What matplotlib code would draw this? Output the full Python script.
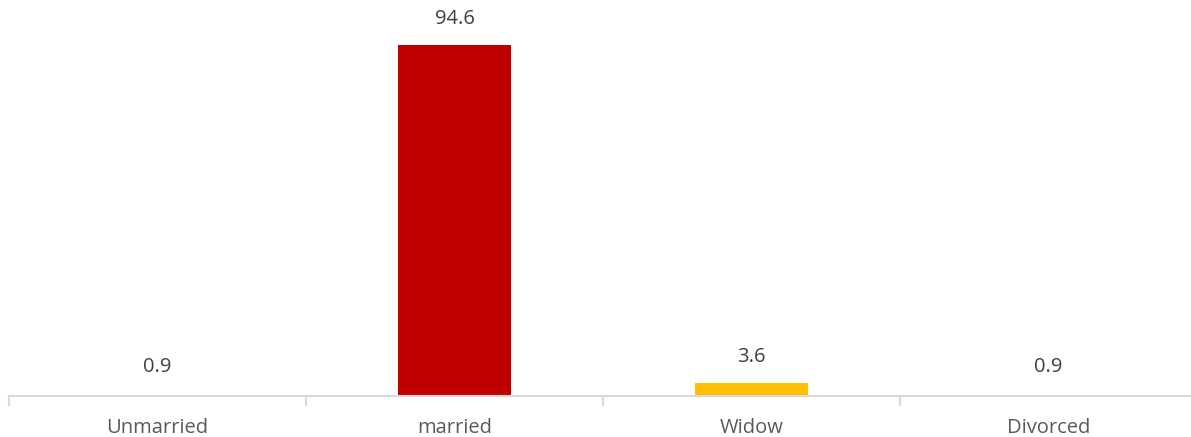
import matplotlib
matplotlib.use("Agg")
import matplotlib.pyplot as plt

categories = ["Unmarried", "married", "Widow", "Divorced"]
values = [0.9, 94.6, 3.6, 0.9]
colors = ["#FFFFFF", "#C00000", "#FFC000", "#FFFFFF"]
labels = ["0.9", "94.6", "3.6", "0.9"]

plt.rcParams['font.family'] = ['Open Sans', 'DejaVu Sans']
W, H = 1191, 437
fig = plt.figure(figsize=(W/100, H/100), dpi=100)
ax = fig.add_axes([9/W, (H-396)/H, 1188/W, 396/H])

x = list(range(len(categories)))
ax.bar(x, values, width=0.38, color=colors, zorder=2)
ax.set_xlim(-0.5, 3.5)
ax.set_ylim(0, 396/351*94.6)

for xi, v, lab in zip(x, values, labels):
    ax.annotate(lab, (xi, v), xytext=(0, 16), textcoords='offset pixels',
                ha='center', va='bottom', fontsize=14.5, color='#404040')

for s in ['top', 'right', 'left']:
    ax.spines[s].set_visible(False)
ax.spines['bottom'].set_color('#D9D9D9')
ax.spines['bottom'].set_linewidth(1.5)
ax.set_yticks([])
ax.set_xticks([-0.5, 0.5, 1.5, 2.5, 3.5])
ax.set_xticklabels([])
ax.set_xticks(x, minor=True)
ax.set_xticklabels(categories, minor=True, fontsize=14.5, color='#595959')
ax.tick_params(axis='x', which='major', length=7, width=1.5, color='#D9D9D9')
ax.tick_params(axis='x', which='minor', length=0, pad=16)

fig.savefig("out.png", dpi=100)
